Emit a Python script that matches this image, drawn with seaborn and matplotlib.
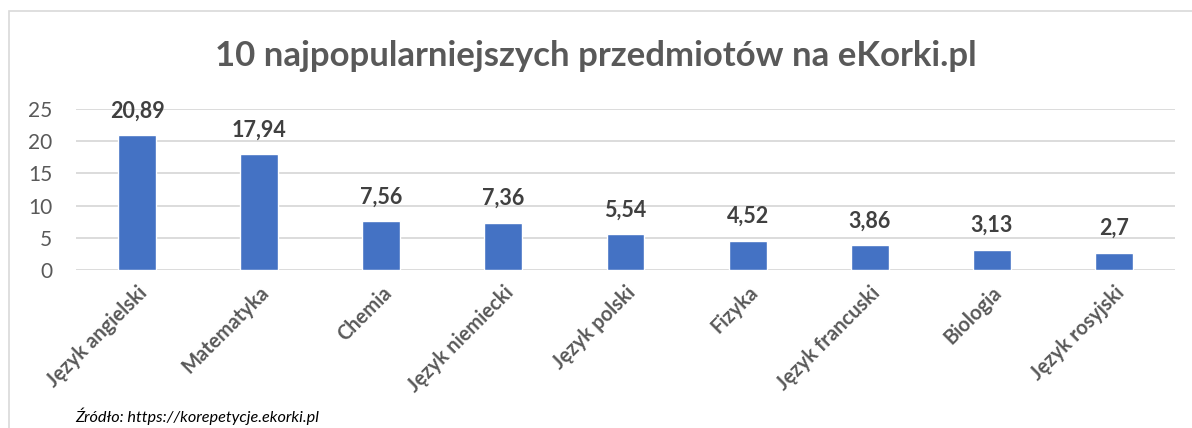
import matplotlib
matplotlib.use('Agg')
import matplotlib.pyplot as plt
import matplotlib.patches as mpatches
import seaborn as sns
import pandas as pd

# Dane
przedmioty = ['Język angielski', 'Matematyka', 'Chemia', 'Język niemiecki', 'Język polski',
              'Fizyka', 'Język francuski', 'Biologia', 'Język rosyjski']
udzial = [20.89, 17.94, 7.56, 7.36, 5.54, 4.52, 3.86, 3.13, 2.7]
etykiety = ['20,89', '17,94', '7,56', '7,36', '5,54', '4,52', '3,86', '3,13', '2,7']
y_ticks = [0, 5, 10, 15, 20, 25]

df = pd.DataFrame({'Przedmiot': przedmioty, 'Udzial': udzial})

sns.set_theme(style="white")
plt.rcParams['font.family'] = ['Lato', 'DejaVu Sans']

fig = plt.figure(figsize=(11.92, 4.28), dpi=100)
ax = fig.add_axes([76 / 1192, 1 - 270 / 428, (1175 - 76) / 1192, (270 - 109) / 428])

sns.barplot(data=df, x='Przedmiot', y='Udzial', color='#4472C4', saturation=1, width=0.31, ax=ax, zorder=3)

ax.set_ylim(0, 25)
ax.set_xlim(-0.5, len(przedmioty) - 0.5)
ax.set_yticks(y_ticks)
ax.yaxis.grid(True, color='#d9d9d9', linewidth=1.3, zorder=0)
ax.set_axisbelow(True)
for s in ax.spines.values():
    s.set_visible(False)
ax.tick_params(axis='y', length=0, labelsize=15, labelcolor='#595959', pad=17)
ax.tick_params(axis='x', length=0, pad=9)
ax.set_xlabel('')
ax.set_ylabel('')
ax.set_xticks(range(len(przedmioty)))
ax.set_xticklabels(przedmioty, rotation=45, ha='right', rotation_mode='anchor',
                   fontsize=14.5, color='#595959', fontweight='bold')

# etykiety danych nad słupkami
for i, (v, t) in enumerate(zip(udzial, etykiety)):
    ax.annotate(t, (i, v), xytext=(0, 10), textcoords='offset points', ha='center', va='bottom',
                fontsize=15.5, fontweight='bold', color='#404040')

fig.text(0.5, 1 - 56 / 428, '10 najpopularniejszych przedmiotów na eKorki.pl', ha='center', va='center',
         fontsize=25, fontweight='bold', color='#595959')
fig.text(75 / 1192, 1 - 416 / 428, 'Źródło: https://korepetycje.ekorki.pl', ha='left', va='center',
         fontsize=11.7, style='italic', color='#000000')

# ramka wykresu
fig.patches.append(mpatches.Rectangle((9 / 1192, -0.1), 1.2, 1 - 11 / 428 + 0.1, transform=fig.transFigure,
                                      fill=False, edgecolor='#d9d9d9', linewidth=1.2))

fig.savefig('out.png', dpi=100)
